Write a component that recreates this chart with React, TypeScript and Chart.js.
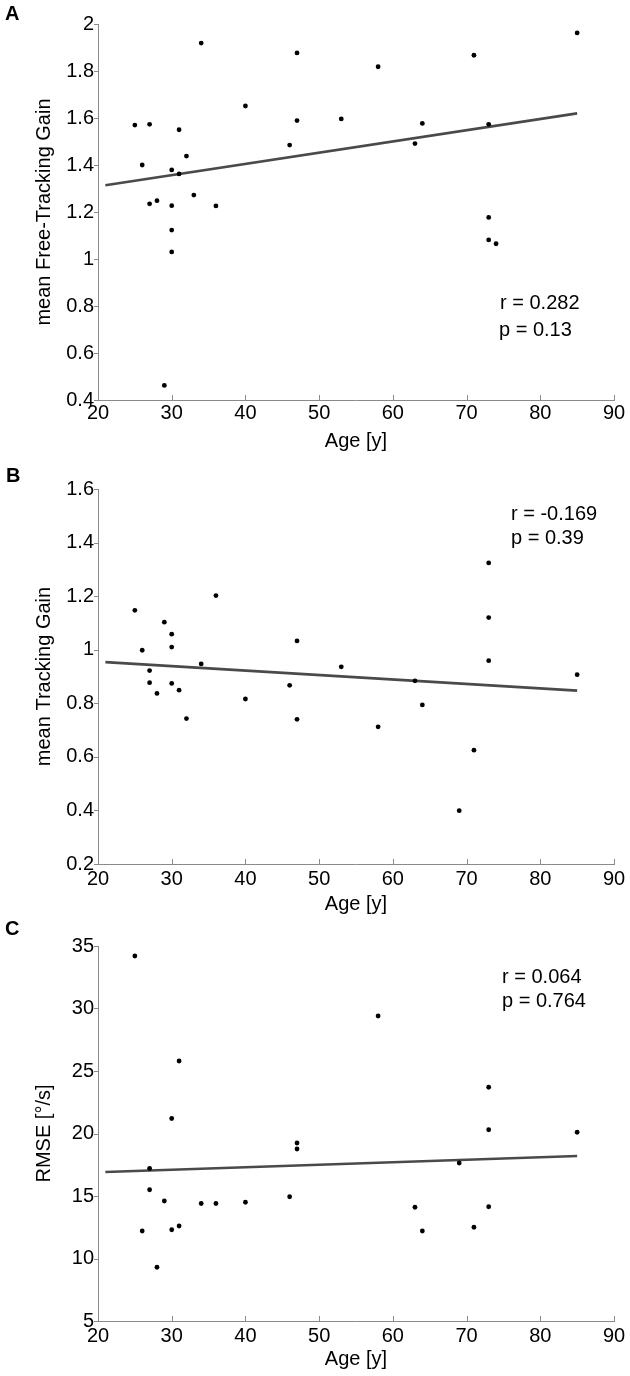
import React, { useEffect, useRef } from "react";
import { Chart, registerables } from "chart.js";

Chart.register(...registerables);

// ---------- data ----------
const agesA = [25, 26, 27, 27, 28, 29, 30, 30, 30, 30, 31, 31, 32, 33, 34, 36, 40, 46, 47, 47, 53, 58, 63, 64, 71, 73, 73, 73, 74, 85];
const gainA = [1.57, 1.4, 1.573, 1.235, 1.248, 0.462, 1.379, 1.227, 1.123, 1.03, 1.55, 1.362, 1.438, 1.272, 1.919, 1.226, 1.651, 1.485, 1.877, 1.589, 1.596, 1.818, 1.491, 1.577, 1.867, 1.573, 1.177, 1.081, 1.065, 1.962];

const agesB = [25, 26, 27, 27, 28, 29, 30, 30, 30, 31, 32, 34, 36, 40, 46, 47, 47, 53, 58, 63, 64, 69, 71, 73, 73, 73, 85];
const gainB = [1.147, 0.998, 0.922, 0.877, 0.837, 1.103, 1.058, 1.01, 0.874, 0.849, 0.743, 0.947, 1.202, 0.816, 0.867, 1.033, 0.74, 0.936, 0.712, 0.884, 0.794, 0.399, 0.625, 1.324, 1.12, 0.959, 0.907];

const agesC = [25, 26, 27, 27, 28, 29, 30, 30, 31, 31, 34, 36, 40, 46, 47, 47, 58, 63, 64, 69, 71, 73, 73, 73, 85];
const rmseC = [34.2, 12.2, 17.2, 15.5, 9.3, 14.6, 21.2, 12.3, 25.8, 12.6, 14.4, 14.4, 14.5, 14.94, 19.24, 18.76, 29.4, 14.1, 12.2, 17.64, 12.5, 23.7, 20.3, 14.14, 20.1];

const fitAges = [21, 85];
const fitA = [1.314, 1.62];
const fitB = [0.954, 0.847];
const fitC = [16.92, 18.2];

const xTicksRange = [20, 90];
const statsA = ["r = 0.282", "p = 0.13"];
const statsB = ["r = -0.169", "p = 0.39"];
const statsC = ["r = 0.064", "p = 0.764"];

// ---------- style ----------
const FONT = "'Liberation Sans', Arial, Helvetica, sans-serif";
const AXIS_GREY = "#8a8a8a";

const tickPlugin = {
  id: "matlabTicks",
  afterDraw(chart: any) {
    const { ctx, chartArea, scales } = chart;
    const { left, bottom } = chartArea;
    const x = scales.x;
    const y = scales.y;
    ctx.save();
    ctx.strokeStyle = AXIS_GREY;
    ctx.lineWidth = 1;
    ctx.beginPath();
    x.ticks.forEach((t: any) => {
      const px = Math.round(x.getPixelForValue(t.value)) + 0.5;
      ctx.moveTo(px, bottom);
      ctx.lineTo(px, bottom - 5);
    });
    y.ticks.forEach((t: any) => {
      const py = Math.round(y.getPixelForValue(t.value)) + 0.5;
      ctx.moveTo(left - 4, py);
      ctx.lineTo(left, py);
    });
    ctx.stroke();
    ctx.restore();
  },
};

type PanelProps = {
  top: number;
  height: number;
  padTop: number;
  xAxisH: number;
  xs: number[];
  ys: number[];
  fitY: number[];
  yMin: number;
  yMax: number;
  yStep: number;
  yTitle: string;
  xTitlePad: number;
  xTickPad: number;
};

function Panel(p: PanelProps) {
  const ref = useRef<HTMLCanvasElement>(null);
  useEffect(() => {
    const chart = new Chart(ref.current as HTMLCanvasElement, {
      type: "scatter",
      data: {
        datasets: [
          {
            data: p.xs.map((x, i) => ({ x, y: p.ys[i] })),
            backgroundColor: "#000",
            borderColor: "#000",
            pointRadius: 2.4,
            pointBorderWidth: 0,
            pointHoverRadius: 2.4,
            showLine: false,
          },
          {
            data: fitAges.map((x, i) => ({ x, y: p.fitY[i] })),
            showLine: true,
            borderColor: "#4a4a4a",
            borderWidth: 2.7,
            pointRadius: 0,
            pointHoverRadius: 0,
            fill: false,
          },
        ],
      },
      options: {
        responsive: false,
        animation: false,
        devicePixelRatio: 1,
        events: [],
        layout: { padding: { top: p.padTop, right: 16, left: 0, bottom: 0 } },
        plugins: { legend: { display: false }, tooltip: { enabled: false } },
        scales: {
          x: {
            type: "linear",
            position: "bottom",
            min: xTicksRange[0],
            max: xTicksRange[1],
            ticks: {
              stepSize: 10,
              color: "#000",
              font: { family: FONT, size: 20 },
              padding: p.xTickPad,
              maxRotation: 0,
              autoSkip: false,
            },
            grid: { display: false, drawTicks: false, tickLength: 0 },
            border: { display: true, color: AXIS_GREY, width: 1 },
            title: {
              display: true,
              text: "Age [y]",
              color: "#000",
              font: { family: FONT, size: 20 },
              padding: { top: 0, bottom: p.xTitlePad },
            },
            afterFit: (s: any) => {
              s.height = p.xAxisH;
            },
          },
          y: {
            type: "linear",
            min: p.yMin,
            max: p.yMax,
            ticks: {
              stepSize: p.yStep,
              color: "#000",
              font: { family: FONT, size: 20 },
              padding: 4,
              autoSkip: false,
              callback: (v: any) => String(parseFloat(Number(v).toFixed(2))),
            },
            grid: { display: false, drawTicks: false, tickLength: 0 },
            border: { display: true, color: AXIS_GREY, width: 1 },
            title: {
              display: true,
              text: p.yTitle,
              color: "#000",
              font: { family: FONT, size: 20 },
              padding: { top: 32, bottom: 0 },
            },
            afterFit: (s: any) => {
              s.width = 98;
            },
          },
        },
      } as any,
      plugins: [tickPlugin],
    });
    return () => chart.destroy();
  }, []);
  return (
    <canvas
      ref={ref}
      width={630}
      height={p.height}
      style={{ position: "absolute", left: 0, top: p.top, width: 630, height: p.height }}
    />
  );
}

function Label({ text, left, top, bold, size }: { text: string; left: number; top: number; bold?: boolean; size: number }) {
  return (
    <div
      style={{
        position: "absolute",
        left,
        top,
        fontFamily: FONT,
        fontSize: size,
        lineHeight: `${size}px`,
        fontWeight: bold ? 700 : 400,
        color: "#000",
        whiteSpace: "nowrap",
      }}
    >
      {text}
    </div>
  );
}

export default function App() {
  return (
    <div style={{ position: "absolute", left: 0, top: 0, width: 630, height: 1376, background: "#fff", overflow: "hidden" }}>
      <Panel top={0} height={460} padTop={24} xAxisH={60} xs={agesA} ys={gainA} fitY={fitA}
        yMin={0.4} yMax={2} yStep={0.2} yTitle="mean Free-Tracking Gain" xTitlePad={7} xTickPad={1} />
      <Panel top={460} height={460} padTop={29} xAxisH={56} xs={agesB} ys={gainB} fitY={fitB}
        yMin={0.2} yMax={1.6} yStep={0.2} yTitle="mean Tracking Gain" xTitlePad={4} xTickPad={3} />
      <Panel top={920} height={456} padTop={26} xAxisH={55} xs={agesC} ys={rmseC} fitY={fitC}
        yMin={5} yMax={35} yStep={5} yTitle="RMSE [°/s]" xTitlePad={5} xTickPad={3} />

      <Label text="A" left={5} top={3} bold size={20} />
      <Label text="B" left={6} top={465} bold size={20} />
      <Label text="C" left={5} top={918} bold size={20} />

      <Label text={statsA[0]} left={500} top={292} size={20} />
      <Label text={statsA[1]} left={499} top={319} size={20} />
      <Label text={statsB[0]} left={511} top={503} size={20} />
      <Label text={statsB[1]} left={511} top={527} size={20} />
      <Label text={statsC[0]} left={502} top={966} size={20} />
      <Label text={statsC[1]} left={502} top={990} size={20} />
    </div>
  );
}
